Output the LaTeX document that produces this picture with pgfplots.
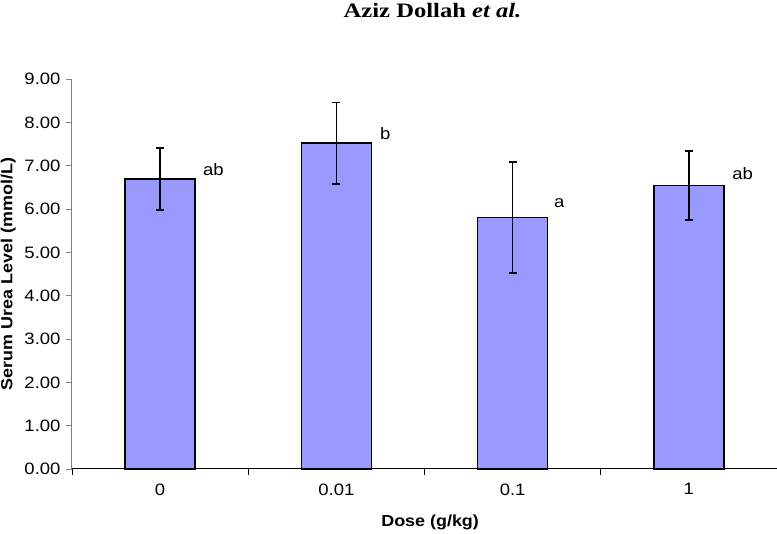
\documentclass[border=0pt]{standalone}
\usepackage{pgfplots}
\pgfplotsset{compat=1.18}
\usepackage{fontspec}
\setmainfont[FakeStretch=1.12]{Liberation Sans}
\newfontfamily\titlefont[FakeStretch=1.2]{Liberation Serif}
\definecolor{barfill}{HTML}{9999FF}
\definecolor{axgray}{HTML}{808080}
\begin{document}
\begin{tikzpicture}[x=1pt,y=1pt]
\useasboundingbox (0,0) rectangle (777,534);
\node[anchor=base, font=\titlefont\bfseries\fontsize{20.5pt}{24pt}\selectfont] at (432.5,516.5) {Aziz Dollah \textit{et al.}};
\begin{axis}[
  at={(72pt,65pt)}, anchor=south west,
  scale only axis, width=705pt, height=390pt,
  xmin=-0.5, xmax=3.5, ymin=0, ymax=9,
  axis lines*=left,
  x axis line style={black, line width=1pt, -},
  y axis line style={axgray, line width=1pt, -},
  xtick={0,1,2,3},
  xticklabels={0,0.01,0.1,1},
  major x tick style={draw=none},
  minor xtick={-0.5,0.5,1.5,2.5,3.5},
  minor x tick style={black, line width=0.9pt},
  minor tick length=6pt,
  ytick={0,1,...,9},
  y tick style={axgray, line width=0.9pt},
  major tick length=6pt,
  tick align=outside,
  xtick pos=bottom, ytick pos=left,
  yticklabel={\pgfmathprintnumber[fixed, fixed zerofill, precision=2]{\tick}},
  /pgf/number format/assume math mode=true,
  tick label style={font=\fontsize{16.5pt}{19pt}\selectfont, black},
  yticklabel style={xshift=-2pt},
  xticklabel style={yshift=-5pt},
  xlabel={Dose (g/kg)},
  ylabel={Serum Urea Level (mmol/L)},
  label style={font=\bfseries\fontsize{16pt}{19pt}\selectfont},
  xlabel style={at={(axis description cs:0.508,-0.138)}, anchor=center},
  ylabel style={at={(axis description cs:-0.0905,0.5)}, anchor=center},
  clip=false,
]
\addplot[ybar, bar width=70pt, fill=barfill, draw=black, line width=1.3pt,
  error bars/.cd, y dir=both, y explicit,
  error bar style={black, line width=1.6pt},
  error mark options={rotate=90, mark size=4pt, line width=1.6pt, black}]
  coordinates {
  (0,6.69) +- (0,0.72)
  (1,7.52) +- (0,0.94)
  (2,5.80) +- (0,1.28)
  (3,6.54) +- (0,0.80)
};
\addplot[draw=none, mark=none, nodes near coords, point meta=explicit symbolic,
  every node near coord/.append style={anchor=west, inner sep=0pt, font=\fontsize{16.5pt}{19pt}\selectfont, black}]
  coordinates {
  (0.243,6.90) [ab]
  (1.2475,7.75) [b]
  (2.235,6.14) [a]
  (3.245,6.81) [ab]
};
\end{axis}
\end{tikzpicture}
\end{document}
